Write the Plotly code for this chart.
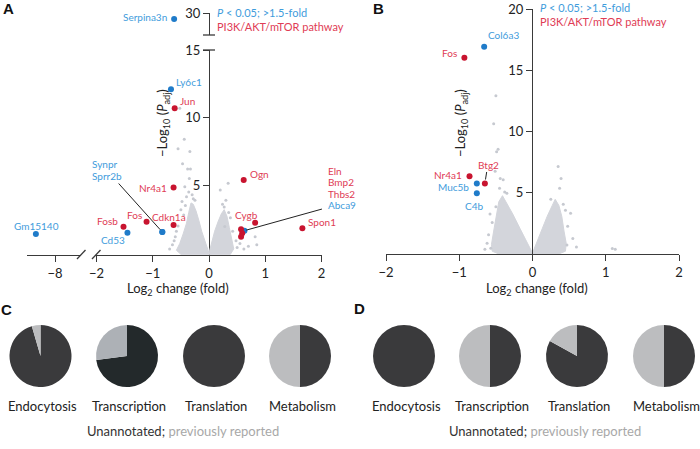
import plotly.graph_objects as go

W, H = 700, 449
FONT = "Lato"
BLUE_PT, BLUE_TX = "#1f7bc9", "#3f9cdc"
RED_PT, RED_TX = "#c8142f", "#e03c55"
GRAY = "#c6c9d0"
CLOUD = "#d3d5db"
AXC = "#3a3a3a"

# ---------------- Panel A data ----------------
a_blue_gene = ["Serpina3n", "Ly6c1", "Synpr", "Sprr2b", "Cd53", "Gm15140", "Abca9"]
a_blue_x = [-0.62, -0.676, -0.83, -0.83, -1.45, -8.34, 0.63]
a_blue_y = [29.56, 12.1, 1.55, 1.55, 1.5, 1.4, 1.65]
a_red_gene = ["Jun", "Nr4a1", "Cdkn1a", "Fos", "Fosb", "Ogn", "Cygb", "Eln", "Bmp2", "Thbs2", "Spon1"]
a_red_x = [-0.61, -0.63, -0.63, -1.11, -1.52, 0.617, 0.82, 0.57, 0.59, 0.57, 1.66]
a_red_y = [10.7, 4.83, 2.07, 2.3, 1.94, 5.4, 2.24, 1.75, 1.46, 1.2, 1.82]
# dense gray cloud outlines
a_cloud_left_x = [0.0, -0.07, -0.13, -0.18, -0.23, -0.28, -0.32, -0.36, -0.40, -0.46, -0.52, -0.58, -0.50, 0.0]
a_cloud_left_y = [0.0, 0.8, 1.6, 2.4, 3.1, 3.6, 3.7, 3.0, 2.2, 1.4, 0.7, 0.2, -0.1, -0.1]
a_cloud_right_x = [0.0, 0.05, 0.10, 0.16, 0.22, 0.27, 0.32, 0.36, 0.40, 0.44, 0.38, 0.0]
a_cloud_right_y = [0.0, 0.8, 1.6, 2.3, 2.9, 3.2, 2.7, 1.9, 1.0, 0.3, -0.1, -0.1]
a_gray_x = [-0.52, -0.44, -0.34, -0.55, -0.38, -0.33, -0.47, -0.43, -0.36, -0.40, -0.50, -0.45,
            -0.55, -0.60, -0.48, -0.30, -0.25, -0.65, -0.70, -0.35, -0.28, -0.42, -0.58, -0.62,
            0.34, 0.20, 0.27, 0.28, 0.85, 0.82, 0.30, 0.38, 0.42, 0.48, 0.50, 0.24, 0.35, 0.55, 0.62, 0.70]
a_gray_y = [10.7, 8.4, 7.5, 7.7, 6.2, 6.2, 6.6, 4.9, 4.5, 4.16, 3.2, 2.8,
            2.0, 1.2, 3.8, 4.3, 3.9, 0.6, 0.3, 5.5, 4.0, 3.5, 1.6, 0.9,
            5.15, 4.65, 3.4, 1.95, 0.6, 1.2, 3.9, 2.6, 1.6, 0.9, 0.4, 3.6, 3.0, 0.7, 0.3, 0.5]

# ---------------- Panel B data ----------------
b_blue_gene = ["Col6a3", "Muc5b", "C4b"]
b_blue_x = [-0.66, -0.76, -0.76]
b_blue_y = [16.9, 5.7, 4.9]
b_red_gene = ["Fos", "Nr4a1", "Btg2"]
b_red_x = [-0.93, -0.86, -0.65]
b_red_y = [16.0, 6.3, 5.7]
b_cloud_left_x = [0.0, -0.08, -0.17, -0.27, -0.36, -0.41, -0.46, -0.50, -0.53, -0.56, -0.55, -0.45, 0.0]
b_cloud_left_y = [0.0, 0.9, 2.0, 3.2, 4.2, 4.7, 4.2, 3.0, 1.8, 0.7, 0.15, -0.1, -0.1]
b_cloud_right_x = [0.0, 0.06, 0.13, 0.20, 0.27, 0.31, 0.36, 0.40, 0.43, 0.46, 0.45, 0.35, 0.0]
b_cloud_right_y = [0.0, 0.9, 2.0, 3.0, 3.9, 4.4, 3.9, 3.0, 1.8, 0.8, 0.15, -0.1, -0.1]
b_gray_x = [-0.50, -0.53, -0.47, -0.49, -0.51, -0.44, -0.40, -0.38, -0.57, -0.60, -0.55, -0.50,
            -0.45, -0.62, -0.35, -0.58, -0.65,
            0.35, 0.39, 0.37, 0.52, 0.47, 1.09, 1.13, 0.42, 0.48, 0.55, 0.25, 0.45, 0.60]
b_gray_y = [12.9, 10.6, 8.5, 8.3, 6.7, 6.1, 6.0, 5.0, 0.4, 1.5, 2.5, 3.8,
            5.3, 0.8, 4.9, 3.2, 0.3,
            7.1, 6.1, 5.3, 3.25, 0.65, 0.38, 0.3, 4.0, 2.2, 1.2, 4.4, 3.5, 0.5]

# ---------------- Pie data (C, D) ----------------
pie_categories = ["Endocytosis", "Transcription", "Translation", "Metabolism"]
c_previously_reported = [4.5, 27, 0, 50]
c_unannotated = [95.5, 73, 100, 50]
d_previously_reported = [0, 50, 17, 50]
d_unannotated = [100, 50, 83, 50]

x_ticks_left = [-8]
x_ticks_main = [-2, -1, 0, 1, 2]
a_y_ticks = [5, 10, 15]
a_y_top_ticks = [30]
b_x_ticks = [-2, -1, 0, 1, 2]
b_y_ticks = [5, 10, 15, 20]


def PX(x):
    return x / W


def PY(y):
    return 1 - y / H


fig = go.Figure()


def add_pts(x, y, color, xa, ya, size):
    fig.add_trace(go.Scatter(x=x, y=y, mode="markers", xaxis=xa, yaxis=ya,
                             marker=dict(color=color, size=size, line=dict(width=0)),
                             showlegend=False, hoverinfo="skip", cliponaxis=False))


def add_cloud(x, y, xa, ya):
    fig.add_trace(go.Scatter(x=x, y=y, mode="lines", fill="toself", fillcolor=CLOUD,
                             line=dict(color=CLOUD, width=1), xaxis=xa, yaxis=ya,
                             showlegend=False, hoverinfo="skip"))


add_cloud(a_cloud_left_x, a_cloud_left_y, "x2", "y")
add_cloud(a_cloud_right_x, a_cloud_right_y, "x2", "y")
add_pts(a_gray_x, a_gray_y, GRAY, "x2", "y", 3)
add_cloud(b_cloud_left_x, b_cloud_left_y, "x3", "y2")
add_cloud(b_cloud_right_x, b_cloud_right_y, "x3", "y2")
add_pts(b_gray_x, b_gray_y, GRAY, "x3", "y2", 3)


def axes_for_A(x, y):
    xa = "x" if x < -5 else "x2"
    ya = "y3" if y > 20 else "y"
    return xa, ya


for genes, xs, ys, col in [(a_blue_gene, a_blue_x, a_blue_y, BLUE_PT), (a_red_gene, a_red_x, a_red_y, RED_PT)]:
    groups = {}
    for gx, gy in zip(xs, ys):
        key = axes_for_A(gx, gy)
        groups.setdefault(key, ([], []))
        groups[key][0].append(gx)
        groups[key][1].append(gy)
    for (xa, ya), (gx, gy) in groups.items():
        add_pts(gx, gy, col, xa, ya, 6)
add_pts(b_blue_x, b_blue_y, BLUE_PT, "x3", "y2", 6)
add_pts(b_red_x, b_red_y, RED_PT, "x3", "y2", 6)

# label placement (layout only): xanchor, xshift, yshift (pixels)
a_label_place = {
    "Serpina3n": ("right", -5, 2), "Ly6c1": ("left", 3, 7), "Jun": ("left", 3, 7),
    "Nr4a1": ("right", -5, 0), "Cdkn1a": ("center", -5, 8), "Fos": ("right", -3, 7),
    "Fosb": ("right", -3, 6), "Cd53": ("right", 0, -7), "Gm15140": ("center", 1, 8),
    "Ogn": ("left", 4, 6), "Cygb": ("center", -9, 8), "Spon1": ("left", 4, 6),
    "Synpr": ("left", -72, 68), "Sprr2b": ("left", -72, 56),
    "Eln": ("left", 82, 60), "Bmp2": ("left", 82, 49), "Thbs2": ("left", 82, 37), "Abca9": ("left", 82, 26),
}
a_label_ref = {"Eln": "Abca9", "Bmp2": "Abca9", "Thbs2": "Abca9"}
b_label_place = {
    "Col6a3": ("left", 2, 12), "Fos": ("right", -5, 5), "Nr4a1": ("right", -6, 1),
    "Muc5b": ("right", -6, -4), "C4b": ("center", -3, -13), "Btg2": ("center", 4, 18),
}

ann = []
a_pos = {}
for g, x, y in zip(a_blue_gene, a_blue_x, a_blue_y):
    a_pos[g] = (x, y, BLUE_TX)
for g, x, y in zip(a_red_gene, a_red_x, a_red_y):
    a_pos[g] = (x, y, RED_TX)
for g, (xanc, xs, ys) in a_label_place.items():
    ref = a_label_ref.get(g, g)
    x, y, _ = a_pos[ref]
    col = a_pos[g][2]
    xa, ya = axes_for_A(x, y)
    ann.append(dict(x=x, y=y, xref=xa, yref=ya, text=g, showarrow=False, xanchor=xanc,
                    yanchor="middle", xshift=xs, yshift=ys, font=dict(family=FONT, size=10, color=col)))
b_pos = {}
for g, x, y in zip(b_blue_gene, b_blue_x, b_blue_y):
    b_pos[g] = (x, y, BLUE_TX)
for g, x, y in zip(b_red_gene, b_red_x, b_red_y):
    b_pos[g] = (x, y, RED_TX)
for g, (xanc, xs, ys) in b_label_place.items():
    x, y, col = b_pos[g]
    ann.append(dict(x=x, y=y, xref="x3", yref="y2", text=g, showarrow=False, xanchor=xanc,
                    yanchor="middle", xshift=xs, yshift=ys, font=dict(family=FONT, size=10, color=col)))

lead = dict(text="", showarrow=True, arrowhead=0, arrowwidth=1, arrowcolor="#222222", axref="pixel", ayref="pixel")
ann.append(dict(x=a_pos["Synpr"][0], y=a_pos["Synpr"][1], xref="x2", yref="y", ax=-45, ay=-50, standoff=3, **lead))
ann.append(dict(x=a_pos["Abca9"][0], y=a_pos["Abca9"][1], xref="x2", yref="y", ax=79, ay=-22, standoff=2, **lead))
ann.append(dict(x=b_pos["Btg2"][0], y=b_pos["Btg2"][1], xref="x3", yref="y2", ax=2, ay=-13, standoff=4, **lead))

for lx, ly in [(215, 12.7), (538, 7.5)]:
    ann.append(dict(x=PX(lx), y=PY(ly), xref="paper", yref="paper", showarrow=False, xanchor="left", yanchor="middle",
                    text="<i>P</i> < 0.05; >1.5-fold", font=dict(family=FONT, size=11, color=BLUE_TX)))
    ann.append(dict(x=PX(lx), y=PY(ly + 13.5), xref="paper", yref="paper", showarrow=False, xanchor="left",
                    yanchor="middle", text="PI3K/AKT/mTOR pathway", font=dict(family=FONT, size=11, color=RED_TX)))

for cx in [178, 537]:
    ann.append(dict(x=PX(cx), y=PY(289), xref="paper", yref="paper", showarrow=False, xanchor="center", yanchor="middle",
                    text="Log<sub>2</sub> change (fold)", font=dict(family=FONT, size=13, color="#222")))
for cx in [163, 461]:
    ann.append(dict(x=PX(cx), y=PY(123), xref="paper", yref="paper", showarrow=False, xanchor="center", yanchor="middle",
                    textangle=-90, text="\u2212Log<sub>10</sub> (<i>P</i><sub>adj</sub>)",
                    font=dict(family=FONT, size=13, color="#222")))

for t, lx, ly in [("A", 8, 9), ("B", 378, 8), ("C", 6, 309), ("D", 359, 308)]:
    ann.append(dict(x=PX(lx), y=PY(ly), xref="paper", yref="paper", showarrow=False, xanchor="center", yanchor="middle",
                    text="<b>%s</b>" % t, font=dict(family="Liberation Sans", size=15, color="#111")))

pie_r = 31
c_centers = [40.5, 127, 214, 300]
d_centers = [404, 490, 577, 664]
pie_cy = 356
for centers, prev, unann, panel in [(c_centers, c_previously_reported, c_unannotated, "C"),
                                     (d_centers, d_previously_reported, d_unannotated, "D")]:
    for i, (cx, pv, uv) in enumerate(zip(centers, prev, unann)):
        dark = "#23292b" if (panel == "C" and i == 1) else "#3a3a3c"
        light = "#adb1b6" if (panel == "C" and i == 1) else "#bcbdbf"
        fig.add_trace(go.Pie(values=[uv, pv], labels=["unannotated", "previously reported"], sort=False,
                             direction="clockwise", rotation=0, textinfo="none", hoverinfo="skip",
                             marker=dict(colors=[dark, light], line=dict(width=0)), showlegend=False,
                             domain=dict(x=[PX(cx - pie_r), PX(cx + pie_r)],
                                         y=[PY(pie_cy + pie_r), PY(pie_cy - pie_r)])))
        ann.append(dict(x=PX(cx + 2), y=PY(406), xref="paper", yref="paper", showarrow=False, xanchor="center",
                        yanchor="middle", text=pie_categories[i], font=dict(family=FONT, size=13, color="#222")))
for cx in [183, 545]:
    ann.append(dict(x=PX(cx), y=PY(431), xref="paper", yref="paper", showarrow=False, xanchor="center", yanchor="middle",
                    text="Unannotated; <span style='color:#a8a8a8'>previously reported</span>",
                    font=dict(family=FONT, size=13, color="#333")))

ax_common = dict(showgrid=False, zeroline=False, showline=True, linecolor=AXC, linewidth=1.3,
                 ticks="outside", ticklen=6, tickwidth=1.3, tickcolor=AXC,
                 tickfont=dict(family=FONT, size=13, color="#222"), fixedrange=True)

y0pos = PX(209)
fig.update_layout(
    width=W, height=H, margin=dict(l=0, r=0, t=0, b=0, autoexpand=False),
    paper_bgcolor="white", plot_bgcolor="rgba(0,0,0,0)", showlegend=False,
    xaxis=dict(domain=[PX(27), PX(81)], range=[-8 + (27 - 55) / 56.25, -8 + (81 - 55) / 56.25],
               anchor="y", tickvals=x_ticks_left, **ax_common),
    xaxis2=dict(domain=[PX(95), PX(322)], range=[(95 - 209) / 56.25, (322 - 209) / 56.25],
                anchor="y", tickvals=x_ticks_main, **ax_common),
    yaxis=dict(domain=[PY(255), PY(50)], range=[-0.15, 15.0], anchor="free", position=y0pos,
               tickvals=a_y_ticks, **ax_common),
    yaxis3=dict(domain=[PY(35), PY(13)], range=[30 - 22 / 13.53, 30], anchor="free", position=y0pos,
                tickvals=a_y_top_ticks, **ax_common),
    xaxis3=dict(domain=[PX(386), PX(679)], range=[-2, 2], anchor="y2", tickvals=b_x_ticks, **ax_common),
    yaxis2=dict(domain=[PY(254), PY(9)], range=[-0.08, 20], anchor="free", position=PX(532),
                tickvals=b_y_ticks, **ax_common),
    annotations=ann,
)

shapes = []
shapes.append(dict(type="line", xref="paper", yref="paper", x0=PX(203), x1=PX(215), y0=PY(50), y1=PY(50),
                   line=dict(color=AXC, width=1.3)))
shapes.append(dict(type="line", xref="paper", yref="paper", x0=PX(203), x1=PX(215), y0=PY(35), y1=PY(35),
                   line=dict(color=AXC, width=1.3)))
for x0 in [77, 92]:
    shapes.append(dict(type="line", xref="paper", yref="paper", x0=PX(x0), x1=PX(x0 + 8.5), y0=PY(259), y1=PY(250),
                       line=dict(color=AXC, width=1.3)))
fig.update_layout(shapes=shapes)

fig.write_html("out.html", config={"displayModeBar": False},
               post_script="document.body.style.margin='0';document.body.style.overflow='hidden';")
